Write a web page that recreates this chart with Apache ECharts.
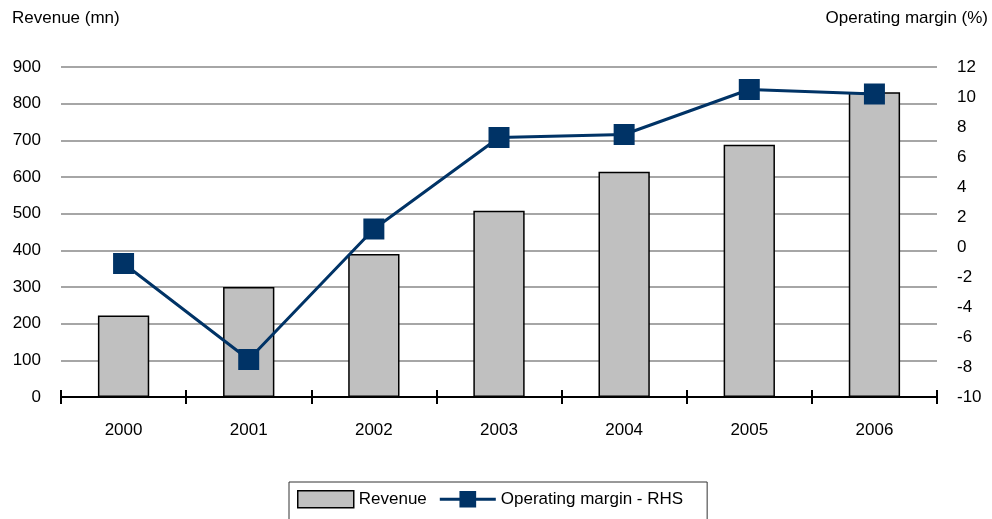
<!DOCTYPE html>
<html>
<head>
<meta charset="utf-8">
<script src="https://cdn.jsdelivr.net/npm/echarts@6/dist/echarts.min.js"></script>
<style>
  html, body { margin: 0; padding: 0; background: #fff; }
  #chart { width: 992px; height: 519px; }
</style>
</head>
<body>
<div id="chart"></div>
<script>
// Annual revenue (mn) and operating margin (%), 2000-2006
const years = ['2000', '2001', '2002', '2003', '2004', '2005', '2006'];
const revenue = [222, 300, 390, 508, 614, 688, 831];
const operatingMargin = [-1.1, -7.5, 1.2, 7.3, 7.5, 10.5, 10.2];

const FONT = 'Liberation Sans, Arial, sans-serif';
const NAVY = '#003366';
const txt = { fontFamily: FONT, fontSize: 17, color: '#000' };

// legend key for the margin line: a bar of line with a square marker in the middle
const lineKeyIcon = 'path://M0,7 L20,7 L20,0 L37,0 L37,7 L57,7 L57,10 L37,10 L37,17 L20,17 L20,10 L0,10 Z';

const chart = echarts.init(document.getElementById('chart'), null, { renderer: 'canvas' });

chart.setOption({
  animation: false,
  backgroundColor: '#fff',
  textStyle: { fontFamily: FONT },
  title: [
    { text: 'Revenue (mn)', left: 12, top: 10, padding: 0, textStyle: Object.assign({ fontWeight: 'normal' }, txt) },
    { text: 'Operating margin (%)', right: 4, top: 10, padding: 0, textStyle: Object.assign({ fontWeight: 'normal' }, txt) }
  ],
  grid: { left: 61, right: 55, top: 67, bottom: 122, containLabel: false },
  legend: {
    left: 289,
    top: 482,
    padding: [8, 24, 22, 8],
    itemGap: 13,
    itemWidth: 56,
    itemHeight: 17,
    borderColor: '#333',
    borderWidth: 1,
    backgroundColor: '#fff',
    textStyle: txt,
    data: [
      { name: 'Revenue', icon: 'rect', itemStyle: { color: '#c0c0c0', borderColor: '#000', borderWidth: 1.5 } },
      { name: 'Operating margin - RHS', icon: lineKeyIcon, itemStyle: { color: NAVY, borderWidth: 0 } }
    ]
  },
  xAxis: [
    {
      type: 'category',
      data: years,
      position: 'bottom',
      axisLine: { show: true, onZero: false, lineStyle: { color: '#000', width: 2 } },
      axisTick: { show: true, length: 7, lineStyle: { color: '#000', width: 2 } },
      axisLabel: Object.assign({ margin: 25 }, txt),
      splitLine: { show: false }
    },
    {
      // inner half of the crossing tick marks
      type: 'category',
      data: years,
      position: 'bottom',
      axisLine: { show: false, onZero: false },
      axisTick: { show: true, inside: true, length: 7, lineStyle: { color: '#000', width: 2 } },
      axisLabel: { show: false },
      splitLine: { show: false }
    }
  ],
  yAxis: [
    {
      type: 'value',
      min: 0,
      max: 900,
      interval: 100,
      axisLine: { show: false },
      axisTick: { show: false },
      axisLabel: Object.assign({ margin: 20 }, txt),
      splitLine: { show: true, lineStyle: { color: '#a6a6a6', width: 2 } }
    },
    {
      type: 'value',
      min: -10,
      max: 12,
      interval: 2,
      position: 'right',
      axisLine: { show: false },
      axisTick: { show: false },
      axisLabel: Object.assign({ margin: 20 }, txt),
      splitLine: { show: false }
    }
  ],
  series: [
    {
      name: 'Revenue',
      type: 'bar',
      xAxisIndex: 0,
      yAxisIndex: 0,
      data: revenue,
      barWidth: '41%',
      itemStyle: { color: '#c0c0c0', borderColor: '#000', borderWidth: 1.5 },
      z: 2
    },
    {
      name: 'Operating margin - RHS',
      type: 'line',
      xAxisIndex: 0,
      yAxisIndex: 1,
      data: operatingMargin,
      symbol: 'rect',
      symbolSize: 21,
      lineStyle: { color: NAVY, width: 3 },
      itemStyle: { color: NAVY },
      z: 3
    }
  ]
});
</script>
</body>
</html>
